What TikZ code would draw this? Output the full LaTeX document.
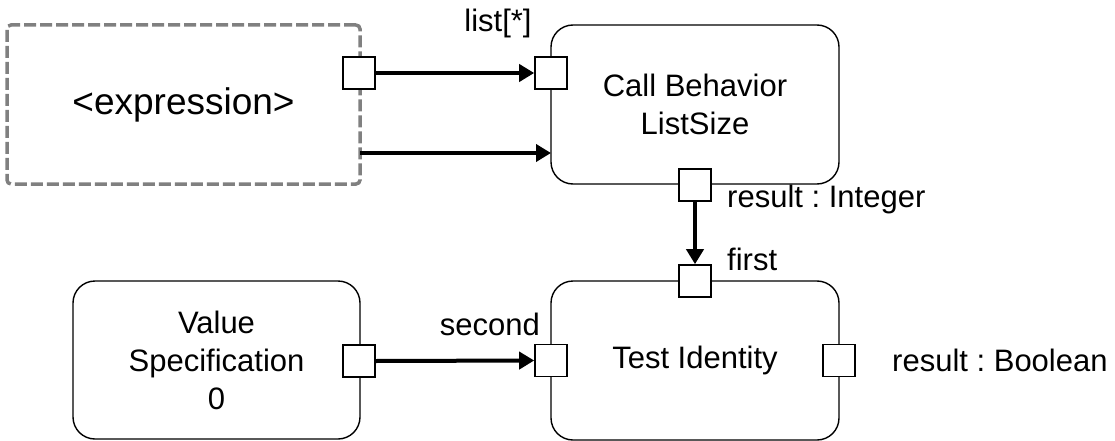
\documentclass[tikz,border=0pt]{standalone}
\usepackage{fontspec}
\setmainfont{Liberation Sans}
\usetikzlibrary{arrows.meta}
\frenchspacing
\tikzset{
  actbox/.style={draw=black, line width=1.4pt, rounded corners=22pt, fill=white,
    align=center, inner sep=0pt, font=\fontsize{31}{38}\selectfont},
  exprbox/.style={draw=black!50, line width=3.5pt, dash pattern=on 12pt off 4pt,
    rounded corners=4pt, inner sep=0pt, font=\fontsize{37}{44}\selectfont},
  portbox/.style={draw=black, fill=white, line width=1.6pt, minimum size=32pt, inner sep=0pt},
  flow/.style={line width=4pt, -{Triangle[length=15pt,width=17pt]}},
  lbl/.style={inner sep=0pt, font=\fontsize{31}{38}\selectfont}
}
\begin{document}
\begin{tikzpicture}[x=1pt,y=-1pt]
\useasboundingbox (0,0) rectangle (1115,441);
% activity boxes
\node[exprbox, minimum width=353pt, minimum height=159pt] (expr) at (183.5,104.5) {<expression>};
\node[actbox, minimum width=288pt, minimum height=159pt] (cb) at (695,104.5) {Call Behavior\\ListSize};
\node[actbox, minimum width=288pt, minimum height=159pt] (ti) at (695,360.5) {Test Identity};
\node[actbox, minimum width=287pt, minimum height=158pt] (vs) at (216.5,360) {Value\\Specification\\0};
% pins
\node[portbox] (pexpr) at (359,73) {};
\node[portbox] (plist) at (551,73) {};
\node[portbox] (pres) at (695,185) {};
\node[portbox] (pfirst) at (695,281) {};
\node[portbox] (psecond) at (551,360.5) {};
\node[portbox] (pbool) at (839,360.5) {};
\node[portbox] (pvs) at (359,361) {};
% connectors
\coordinate (e2) at (360,153);
\coordinate (c2) at (551,153);
\draw[flow] (pexpr.east) -- (plist.west);
\draw[flow] (e2) -- (c2);
\draw[flow] (pres.south) -- (pfirst.north);
\draw[flow] (pvs.east) -- (psecond.west);
% labels
\node[lbl, anchor=base] (llist) at (498,32) {list[*]};
\node[lbl, anchor=base west] (lres) at (727,207) {result : Integer};
\node[lbl, anchor=base west] (lfirst) at (727,270) {first};
\node[lbl, anchor=base east] (lsecond) at (540,335) {second};
\node[lbl, anchor=base west] (lbool) at (892,371) {result : Boolean};
\end{tikzpicture}
\end{document}
